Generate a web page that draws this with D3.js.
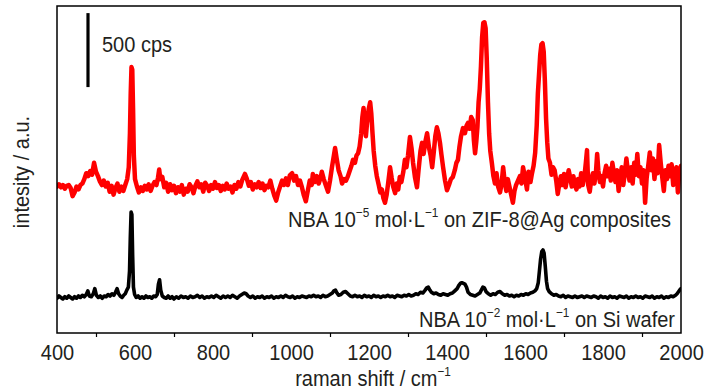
<!DOCTYPE html>
<html><head><meta charset="utf-8">
<script src="https://cdn.jsdelivr.net/npm/d3@7"></script>
<style>
body{margin:0;background:#fff}
svg{display:block}
text{font-family:"Liberation Sans",Arial,sans-serif;fill:#231f20;font-size:22px}
</style>
</head><body>
<svg id="chart" width="726" height="390"></svg>
<script>
// ---------- data ----------
const xLabelTicks = [400, 600, 800, 1000, 1200, 1400, 1600, 1800, 2000];
const xMarkTicks = [500, 700, 900, 1100, 1300, 1500, 1700, 1900];
const scaleBarCps = [1662, 2162]; // 500 cps bar
const scaleBarLabel = "500 cps";
const xTitle = "raman shift / cm";
const yTitle = "intesity / a.u.";

// NBA 1e-5 mol/L on ZIF-8@Ag composites  [raman shift, counts]
const redSpectrum = [
[400,990],[405,1005],[410,985],[415,1000],[420,975],[425,995],[430,1000],[435,980],[440,925],[445,950],
[450,990],[455,970],[460,1000],[465,1010],[470,1040],[475,1080],[480,1060],[485,1095],[490,1070],[495,1150],
[500,1090],[505,1060],[510,1025],[515,1000],[520,1030],[525,990],[530,1015],[535,955],[540,995],[545,935],
[550,980],[555,1010],[560,955],[565,990],[570,960],[575,1000],[580,1040],[584,1120],[587,1350],[589,1620],
[591,1797],[593,1780],[595,1520],[597,1200],[600,1040],[605,990],[610,950],[615,985],[620,960],[625,995],
[630,970],[635,1005],[640,960],[645,995],[650,1020],[655,1000],[659,1050],[662,1105],[665,1040],[670,1055],
[675,985],[680,1015],[685,955],[690,1005],[695,965],[700,995],[705,945],[710,985],[715,955],[720,1000],
[725,935],[730,975],[735,955],[740,1005],[745,985],[750,945],[755,995],[760,1025],[765,985],[770,1005],
[775,955],[780,1015],[785,995],[790,960],[795,1000],[800,975],[805,1020],[810,980],[815,1000],[820,960],
[825,995],[830,970],[835,1010],[840,975],[845,990],[850,950],[855,1000],[860,975],[865,1020],[870,990],
[875,1035],[882,1075],[887,1040],[892,995],[897,1020],[902,970],[907,1005],[912,985],[917,1020],[922,980],
[927,1010],[932,965],[937,995],[942,985],[947,1030],[952,975],[957,930],[962,895],[967,950],[972,990],
[977,1030],[982,1000],[987,1045],[992,1000],[997,1065],[1003,1080],[1008,1030],[1013,1060],[1018,1000],[1023,1030],
[1028,985],[1033,930],[1038,890],[1043,960],[1048,1030],[1053,1000],[1056,1075],[1061,1020],[1066,1060],[1071,1010],
[1076,1050],[1079,1090],[1084,1040],[1089,1000],[1095,955],[1100,1030],[1105,1120],[1110,1200],[1113,1250],[1117,1180],
[1122,1100],[1127,1060],[1131,1010],[1136,1040],[1141,1030],[1146,1060],[1151,1100],[1155,1130],[1159,1170],[1164,1150],
[1168,1200],[1172,1215],[1176,1260],[1180,1350],[1183,1460],[1186,1520],[1189,1440],[1192,1330],[1195,1420],[1199,1510],
[1203,1560],[1206,1480],[1209,1350],[1212,1230],[1216,1130],[1220,1060],[1225,1000],[1229,950],[1233,970],[1237,910],
[1241,880],[1245,930],[1249,1010],[1254,1120],[1258,1050],[1262,990],[1267,945],[1271,1010],[1275,970],[1279,1055],
[1283,1020],[1288,1090],[1292,1170],[1296,1120],[1300,1200],[1305,1324],[1309,1250],[1313,1150],[1318,1050],[1323,985],
[1327,1100],[1332,1230],[1336,1285],[1340,1210],[1345,1300],[1349,1350],[1354,1250],[1358,1200],[1362,1120],[1366,1220],
[1370,1330],[1374,1390],[1378,1350],[1382,1285],[1386,1200],[1390,1120],[1395,1030],[1400,965],[1405,1000],[1410,1040],
[1415,1055],[1420,1100],[1424,1150],[1428,1170],[1432,1260],[1436,1330],[1441,1385],[1446,1350],[1450,1400],[1454,1420],
[1458,1380],[1462,1460],[1466,1440],[1469,1300],[1472,1215],[1475,1290],[1478,1390],[1481,1560],[1484,1650],[1487,1800],
[1490,2000],[1493,2095],[1496,2100],[1499,2060],[1502,1850],[1505,1560],[1508,1350],[1511,1230],[1515,1150],[1519,1060],
[1523,1010],[1527,1080],[1531,990],[1536,950],[1540,1010],[1544,1120],[1548,1020],[1552,960],[1556,1040],[1560,990],
[1565,930],[1569,880],[1573,960],[1577,1000],[1582,1030],[1587,1060],[1591,1010],[1595,1120],[1600,1050],[1605,970],
[1609,1090],[1614,1020],[1618,1080],[1622,1130],[1626,1216],[1630,1400],[1633,1620],[1636,1750],[1639,1880],[1642,1950],
[1645,1959],[1648,1900],[1651,1700],[1654,1450],[1657,1290],[1660,1180],[1664,1150],[1668,1070],[1672,1120],[1676,1100],
[1680,1030],[1684,940],[1688,1010],[1692,1060],[1696,1000],[1700,1075],[1704,985],[1708,1040],[1712,1100],[1716,1050],
[1720,990],[1724,1060],[1728,1000],[1732,970],[1736,1040],[1740,990],[1744,1080],[1748,1000],[1752,1050],[1756,1150],
[1759,1236],[1762,1000],[1766,955],[1770,1040],[1774,1080],[1778,1010],[1782,1090],[1785,1210],[1788,1100],[1792,1020],
[1796,1060],[1800,990],[1804,1080],[1808,1130],[1812,1060],[1816,1110],[1820,1030],[1824,1150],[1828,1080],[1832,1020],
[1836,1100],[1840,960],[1844,1050],[1848,1120],[1852,1000],[1856,1080],[1860,1180],[1864,1090],[1868,1030],[1872,1120],
[1876,1010],[1880,1150],[1884,1070],[1888,1210],[1892,1060],[1896,1120],[1900,1010],[1904,1100],[1908,880],[1912,1050],
[1916,1130],[1920,1220],[1924,1100],[1928,1180],[1932,1040],[1936,1160],[1940,1080],[1944,1270],[1948,1150],[1952,1050],
[1956,960],[1960,1100],[1964,1040],[1968,1130],[1972,1060],[1976,1140],[1980,1000],[1984,1080],[1988,1120],[1992,950],
[1996,1100],[2000,1130]
];

// NBA 1e-2 mol/L on Si wafer  [raman shift, counts]
const blackSpectrum = [
[400,235],[405,250],[410,240],[415,230],[420,245],[425,235],[430,250],[435,240],[440,230],[445,245],
[450,235],[455,250],[460,240],[465,255],[470,245],[475,260],[479,285],[483,250],[488,245],[493,265],
[497,300],[501,255],[506,240],[511,250],[516,235],[521,250],[526,245],[531,260],[536,250],[541,265],
[546,255],[550,275],[554,300],[558,265],[562,250],[567,240],[571,255],[575,265],[579,290],[583,310],
[586,420],[588,650],[590,818],[592,800],[594,520],[596,310],[599,260],[603,240],[608,250],[613,235],
[618,245],[623,235],[628,250],[633,240],[638,245],[643,235],[648,250],[653,245],[657,260],[660,330],
[663,360],[666,290],[670,250],[675,240],[680,235],[685,250],[690,235],[695,245],[700,230],[706,245],
[712,235],[718,250],[724,240],[730,245],[736,235],[742,250],[748,240],[754,245],[760,255],[766,240],
[772,250],[778,235],[784,245],[790,240],[796,250],[802,240],[808,255],[814,245],[820,235],[826,250],
[832,240],[838,250],[844,240],[850,255],[856,245],[862,235],[868,250],[874,260],[880,270],[885,265],
[890,250],[896,240],[902,250],[908,235],[914,245],[920,240],[926,250],[932,235],[938,245],[944,240],
[950,250],[956,235],[962,245],[968,240],[974,250],[980,240],[986,255],[992,245],[998,240],[1004,250],
[1010,235],[1016,245],[1022,240],[1028,250],[1034,245],[1040,240],[1046,250],[1052,245],[1058,255],[1064,245],
[1070,250],[1076,240],[1082,255],[1088,245],[1094,250],[1100,260],[1106,270],[1110,285],[1114,290],[1118,270],
[1122,255],[1128,260],[1134,275],[1140,280],[1146,265],[1152,250],[1158,245],[1164,255],[1170,245],[1176,250],
[1182,240],[1188,255],[1194,245],[1200,250],[1206,240],[1212,255],[1218,245],[1224,250],[1230,240],[1236,250],
[1242,245],[1248,255],[1254,245],[1260,250],[1266,240],[1272,255],[1278,250],[1284,245],[1290,255],[1296,250],
[1302,260],[1308,250],[1314,255],[1320,265],[1326,260],[1332,275],[1338,270],[1344,290],[1348,305],[1352,310],
[1356,290],[1360,275],[1366,265],[1372,270],[1378,260],[1384,255],[1390,265],[1396,260],[1402,255],[1408,265],
[1414,270],[1420,285],[1426,300],[1430,320],[1434,335],[1438,340],[1442,335],[1446,330],[1450,310],[1454,275],
[1460,260],[1466,255],[1472,250],[1478,260],[1484,270],[1488,290],[1492,310],[1496,305],[1500,280],[1506,265],
[1512,255],[1518,265],[1524,260],[1530,275],[1536,280],[1542,265],[1548,255],[1554,260],[1560,250],[1566,255],
[1572,245],[1578,255],[1584,250],[1590,260],[1596,255],[1602,265],[1608,260],[1614,270],[1620,275],[1626,285],
[1630,300],[1634,340],[1637,420],[1640,500],[1643,550],[1646,561],[1649,540],[1652,450],[1655,350],[1658,300],
[1662,280],[1668,265],[1674,255],[1680,260],[1686,250],[1692,245],[1698,255],[1704,240],[1710,250],[1716,245],
[1722,240],[1728,250],[1734,240],[1740,245],[1746,250],[1752,240],[1758,250],[1764,245],[1770,240],[1776,250],
[1782,245],[1788,235],[1794,250],[1800,240],[1806,245],[1812,235],[1818,250],[1824,240],[1830,245],[1836,235],
[1842,250],[1848,245],[1854,240],[1860,250],[1866,235],[1872,245],[1878,240],[1884,250],[1890,240],[1896,245],
[1902,235],[1908,250],[1914,245],[1920,240],[1926,250],[1932,235],[1938,245],[1944,240],[1950,250],[1956,235],
[1962,245],[1968,240],[1974,250],[1980,245],[1986,255],[1990,265],[1994,280],[1998,295],[2000,300]
];

const seriesLabels = [
  {parts:[["NBA 10",0],["\u22125",1],[" mol\u00b7L",0],["\u22121",1],[" on ZIF-8@Ag composites",0]], x:288, y:227},
  {parts:[["NBA 10",0],["\u22122",1],[" mol\u00b7L",0],["\u22121",1],[" on Si wafer",0]], x:419, y:327}
];

// ---------- chart ----------
(function(){
const svg = d3.select("#chart");
const pL = 57, pR = 681, pT = 6, pB = 333;
const SX = 0.91; // horizontal condensing of the lettering
const x = d3.scaleLinear().domain([400, 2000]).range([pL, pR]);
const y = d3.scaleLinear().domain([0, 2210]).range([pB, pT]);

const line = d3.line().x(d => x(d[0])).y(d => y(d[1])).curve(d3.curveLinear);

svg.append("defs").append("clipPath").attr("id","clip")
  .append("rect").attr("x",pL).attr("y",pT).attr("width",pR-pL).attr("height",pB-pT);

const plot = svg.append("g").attr("clip-path","url(#clip)");
plot.append("path").datum(blackSpectrum).attr("d", line)
  .attr("fill","none").attr("stroke","#000").attr("stroke-width",3.6)
  .attr("stroke-linejoin","round").attr("stroke-linecap","round");
plot.append("path").datum(redSpectrum).attr("d", line)
  .attr("fill","none").attr("stroke","#ff0000").attr("stroke-width",4.5)
  .attr("stroke-linejoin","round").attr("stroke-linecap","round");

// frame
svg.append("rect").attr("x",pL).attr("y",pT).attr("width",pR-pL).attr("height",pB-pT)
  .attr("fill","none").attr("stroke","#000").attr("stroke-width",1.5);

// x axis: marks at odd hundreds, labels at even hundreds
const axMarks = d3.axisBottom(x).tickValues(xMarkTicks).tickSize(4).tickFormat("");
const gm = svg.append("g").attr("transform",`translate(0,${pB})`).call(axMarks);
gm.select(".domain").remove();
gm.selectAll("line").attr("stroke","#000").attr("stroke-width",1.2);

const axLabels = d3.axisBottom(x).tickValues(xLabelTicks).tickSize(0).tickPadding(11).tickFormat(d3.format("d"));
const gl = svg.append("g").attr("transform",`translate(0,${pB})`).call(axLabels);
gl.select(".domain").remove();
gl.attr("font-size",null).attr("font-family",null);
gl.selectAll("text").attr("fill","#231f20").attr("dy","0.72em").attr("transform",`scale(${SX},1)`);

function label(xp, yp, anchor, rot) {
  return svg.append("g").attr("transform",`translate(${xp},${yp})${rot ? " rotate("+rot+")" : ""} scale(${SX},1)`)
    .append("text").attr("text-anchor", anchor);
}

// axis titles
const xt = label(373, 386, "middle");
xt.append("tspan").text(xTitle);
xt.append("tspan").attr("font-size",13).attr("dy",-10).text("\u22121");

label(29, 172, "middle", -90).text(yTitle);

// scale bar
svg.append("line").attr("x1",88).attr("x2",88)
  .attr("y1",y(scaleBarCps[0])).attr("y2",y(scaleBarCps[1]))
  .attr("stroke","#000").attr("stroke-width",3.2);
label(102, 52, "start").text(scaleBarLabel);

// series labels
seriesLabels.forEach(l => {
  const t = label(l.x, l.y, "start");
  let raised = false;
  l.parts.forEach(([s, sup]) => {
    const ts = t.append("tspan").text(s);
    if (sup && !raised) { ts.attr("font-size",13).attr("dy",-10); raised = true; }
    else if (!sup && raised) { ts.attr("dy",10); raised = false; }
  });
});
})();
</script>
</body></html>
